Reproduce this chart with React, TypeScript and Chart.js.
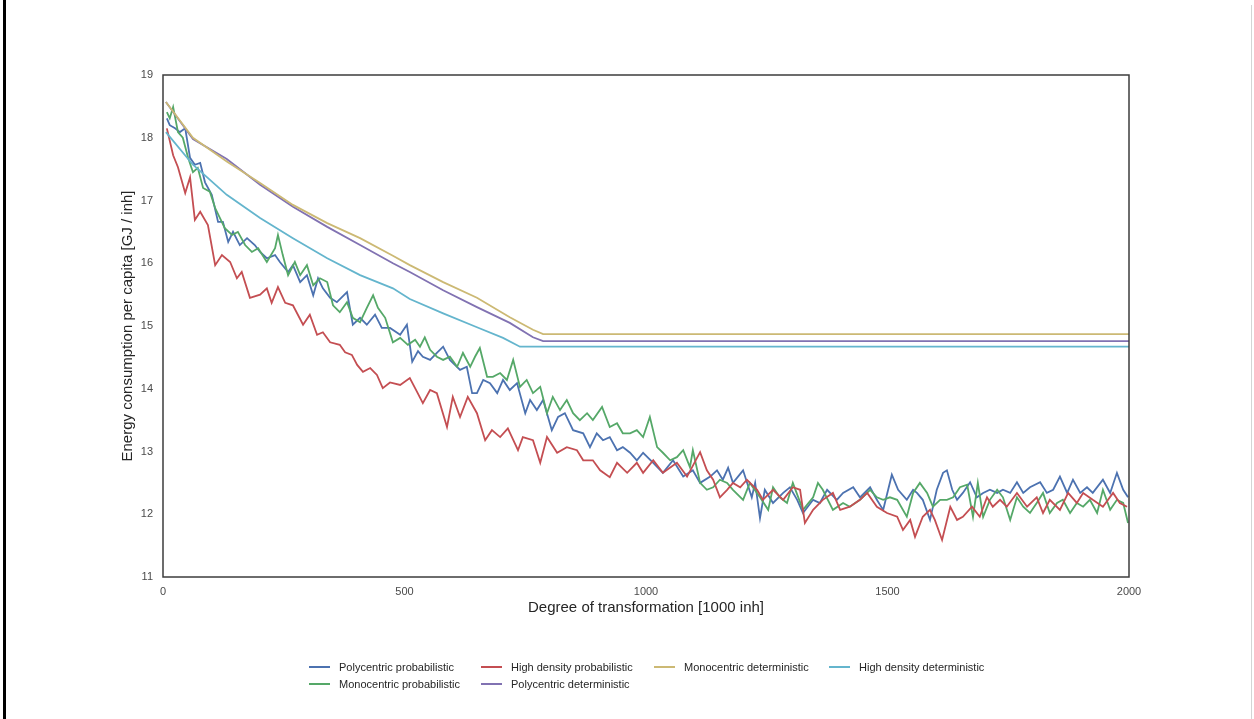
import React, { useEffect, useRef } from "react";
import { Chart, registerables } from "chart.js";

Chart.register(...registerables);

const FONT = "'Liberation Sans', Arial, Helvetica, sans-serif";

// ---------- data (x = degree of transformation [1000 inh], y = GJ / inh) ----------
const polyProbX = [8, 14, 25, 35, 46, 56, 66, 77, 87, 101, 114, 124, 135, 145, 159, 174, 190, 201, 215, 232, 242, 259, 269, 284, 298, 311, 321, 331, 346, 360, 381, 393, 408, 422, 439, 453, 470, 491, 505, 516, 528, 538, 553, 567, 580, 594, 615, 629, 640, 650, 663, 677, 692, 704, 718, 733, 750, 760, 774, 787, 805, 818, 832, 849, 870, 884, 898, 911, 925, 940, 952, 967, 981, 994, 1015, 1035, 1056, 1077, 1097, 1112, 1133, 1147, 1159, 1170, 1180, 1201, 1219, 1226, 1236, 1246, 1263, 1284, 1298, 1313, 1325, 1346, 1360, 1375, 1395, 1408, 1429, 1443, 1464, 1478, 1491, 1509, 1522, 1540, 1553, 1561, 1573, 1588, 1602, 1615, 1623, 1634, 1644, 1656, 1671, 1685, 1698, 1712, 1727, 1739, 1754, 1768, 1781, 1795, 1816, 1830, 1843, 1857, 1872, 1884, 1899, 1913, 1925, 1946, 1961, 1975, 1988, 1998];
const polyProbY = [18.31, 18.2, 18.15, 18.09, 18.15, 17.68, 17.57, 17.6, 17.29, 17.09, 16.66, 16.66, 16.34, 16.5, 16.29, 16.4, 16.29, 16.18, 16.08, 16.13, 16.02, 15.86, 15.97, 15.7, 15.81, 15.49, 15.76, 15.6, 15.45, 15.38, 15.54, 15.02, 15.13, 15.02, 15.18, 14.97, 14.97, 14.86, 15.02, 14.43, 14.6, 14.51, 14.46, 14.57, 14.67, 14.46, 14.3, 14.35, 13.93, 13.93, 14.14, 14.09, 13.93, 14.14, 13.98, 14.09, 13.61, 13.82, 13.66, 13.82, 13.34, 13.55, 13.61, 13.34, 13.29, 13.07, 13.29, 13.18, 13.23, 13.02, 13.07, 12.98, 12.86, 12.98, 12.82, 12.66, 12.86, 12.6, 12.7, 12.5, 12.6, 12.7, 12.55, 12.74, 12.5, 12.7, 12.27, 12.5, 11.94, 12.39, 12.18, 12.34, 12.43, 12.23, 12.02, 12.23, 12.18, 12.39, 12.23, 12.34, 12.43, 12.27, 12.43, 12.23, 12.07, 12.63, 12.39, 12.23, 12.39, 12.34, 12.23, 11.91, 12.39, 12.66, 12.7, 12.39, 12.23, 12.34, 12.51, 12.27, 12.34, 12.39, 12.34, 12.39, 12.34, 12.51, 12.34, 12.43, 12.51, 12.34, 12.39, 12.6, 12.34, 12.55, 12.34, 12.43, 12.34, 12.55, 12.34, 12.66, 12.39, 12.27];

const monoProbX = [8, 14, 21, 31, 41, 52, 62, 72, 83, 97, 108, 118, 128, 143, 155, 170, 184, 197, 215, 232, 238, 248, 259, 273, 284, 298, 311, 325, 340, 352, 366, 381, 393, 408, 422, 435, 445, 460, 476, 491, 507, 522, 532, 542, 553, 567, 580, 594, 609, 621, 636, 646, 656, 671, 683, 698, 712, 725, 739, 753, 766, 781, 795, 807, 822, 836, 849, 863, 878, 890, 909, 925, 940, 952, 967, 981, 994, 1008, 1023, 1035, 1050, 1064, 1077, 1091, 1097, 1112, 1126, 1139, 1153, 1168, 1180, 1201, 1215, 1236, 1253, 1263, 1277, 1292, 1304, 1325, 1346, 1356, 1366, 1387, 1408, 1422, 1443, 1464, 1478, 1491, 1505, 1520, 1540, 1553, 1567, 1582, 1594, 1609, 1623, 1636, 1650, 1665, 1677, 1687, 1698, 1712, 1727, 1739, 1754, 1768, 1781, 1795, 1809, 1822, 1836, 1851, 1863, 1878, 1892, 1905, 1919, 1934, 1946, 1961, 1975, 1988, 1998];
const monoProbY = [18.41, 18.31, 18.49, 18.09, 18.0, 17.68, 17.45, 17.52, 17.2, 17.14, 16.88, 16.72, 16.56, 16.45, 16.5, 16.29, 16.18, 16.24, 16.02, 16.24, 16.45, 16.13, 15.81, 16.02, 15.81, 15.97, 15.65, 15.76, 15.7, 15.33, 15.22, 15.38, 15.13, 15.06, 15.29, 15.49, 15.29, 15.13, 14.74, 14.81, 14.7, 14.78, 14.67, 14.82, 14.62, 14.51, 14.46, 14.51, 14.35, 14.57, 14.35, 14.51, 14.65, 14.19, 14.19, 14.25, 14.14, 14.46, 14.03, 14.14, 13.93, 14.03, 13.61, 13.87, 13.66, 13.82, 13.61, 13.5, 13.61, 13.5, 13.71, 13.39, 13.45, 13.29, 13.29, 13.34, 13.23, 13.55, 13.07, 12.98, 12.86, 12.91, 13.02, 12.75, 13.02, 12.5, 12.39, 12.43, 12.55, 12.5, 12.39, 12.23, 12.5, 12.27, 12.07, 12.43, 12.27, 12.18, 12.5, 12.07, 12.27, 12.5, 12.39, 12.07, 12.18, 12.12, 12.23, 12.39, 12.27, 12.23, 12.27, 12.23, 11.96, 12.34, 12.5, 12.34, 12.12, 12.23, 12.23, 12.27, 12.43, 12.47, 11.96, 12.5, 11.96, 12.23, 12.39, 12.27, 11.91, 12.27, 12.12, 12.02, 12.18, 12.34, 12.02, 12.18, 12.23, 12.02, 12.18, 12.12, 12.23, 12.02, 12.39, 12.07, 12.23, 12.18, 11.86];

const highProbX = [8, 21, 31, 46, 56, 66, 77, 93, 108, 122, 139, 153, 163, 180, 201, 215, 225, 238, 253, 269, 290, 304, 319, 331, 346, 366, 377, 391, 402, 414, 429, 443, 455, 470, 491, 511, 526, 538, 553, 567, 588, 600, 615, 631, 650, 667, 681, 698, 714, 735, 745, 766, 781, 795, 816, 836, 857, 870, 890, 905, 925, 940, 961, 981, 994, 1015, 1035, 1064, 1085, 1112, 1126, 1139, 1153, 1168, 1180, 1195, 1209, 1230, 1242, 1263, 1284, 1304, 1319, 1329, 1346, 1366, 1387, 1402, 1422, 1443, 1458, 1478, 1499, 1520, 1532, 1547, 1557, 1573, 1588, 1598, 1613, 1630, 1644, 1656, 1675, 1691, 1706, 1718, 1733, 1747, 1768, 1789, 1809, 1822, 1836, 1857, 1874, 1892, 1905, 1925, 1946, 1967, 1981, 1996];
const highProbY = [18.15, 17.72, 17.53, 17.12, 17.37, 16.69, 16.82, 16.61, 15.97, 16.13, 16.02, 15.76, 15.86, 15.45, 15.5, 15.6, 15.37, 15.62, 15.37, 15.33, 15.02, 15.18, 14.86, 14.9, 14.74, 14.7, 14.58, 14.54, 14.38, 14.27, 14.33, 14.22, 14.01, 14.1, 14.06, 14.17, 13.95, 13.77, 13.98, 13.93, 13.39, 13.87, 13.55, 13.87, 13.61, 13.18, 13.34, 13.23, 13.37, 13.02, 13.23, 13.18, 12.82, 13.23, 12.98, 13.07, 13.02, 12.86, 12.86, 12.7, 12.59, 12.82, 12.66, 12.82, 12.66, 12.86, 12.66, 12.82, 12.6, 12.99, 12.7, 12.55, 12.27, 12.39, 12.5, 12.43, 12.55, 12.39, 12.23, 12.39, 12.23, 12.43, 12.39, 11.86, 12.07, 12.23, 12.34, 12.07, 12.12, 12.23, 12.34, 12.12, 12.02, 11.96, 11.75, 11.91, 11.64, 11.96, 12.07, 11.91, 11.59, 12.12, 11.91, 11.96, 12.12, 11.96, 12.27, 12.12, 12.23, 12.12, 12.34, 12.12, 12.27, 12.02, 12.23, 12.07, 12.34, 12.18, 12.34, 12.23, 12.12, 12.34, 12.18, 12.12];

const polyDetX = [6, 62, 132, 201, 269, 340, 408, 476, 511, 580, 650, 718, 766, 787, 2000];
const polyDetY = [18.57, 17.98, 17.66, 17.25, 16.9, 16.58, 16.29, 16.0, 15.86, 15.57, 15.3, 15.05, 14.82, 14.76, 14.76];

const monoDetX = [6, 62, 132, 201, 269, 340, 408, 476, 511, 580, 650, 718, 766, 787, 2000];
const monoDetY = [18.57, 18.0, 17.62, 17.28, 16.93, 16.64, 16.4, 16.12, 15.97, 15.7, 15.45, 15.14, 14.94, 14.87, 14.87];

const highDetX = [6, 62, 132, 201, 269, 340, 408, 476, 511, 580, 650, 704, 739, 2000];
const highDetY = [18.09, 17.57, 17.09, 16.72, 16.4, 16.08, 15.81, 15.6, 15.43, 15.2, 14.98, 14.81, 14.67, 14.67];

const xTicks = [0, 500, 1000, 1500, 2000];
const yTicks = [11, 12, 13, 14, 15, 16, 17, 18, 19];

const seriesNames = [
  "Polycentric probabilistic",
  "Monocentric probabilistic",
  "High density probabilistic",
  "Polycentric deterministic",
  "Monocentric deterministic",
  "High density deterministic",
];
const seriesColors = ["#4C72B0", "#55A868", "#C44E52", "#8172B2", "#CCB974", "#64B5CD"];
const seriesX = [polyProbX, monoProbX, highProbX, polyDetX, monoDetX, highDetX];
const seriesY = [polyProbY, monoProbY, highProbY, polyDetY, monoDetY, highDetY];

// legend grid (matplotlib ncol=4, column-major: 2,2,1,1)
const legendCols = [309, 481, 654, 829];
const legendRows = [667, 684];
const legendCol = [0, 0, 1, 1, 2, 3];
const legendRow = [0, 1, 0, 1, 0, 0];

const framePlugin = {
  id: "frame",
  afterDatasetsDraw(chart: any) {
    const { ctx, chartArea } = chart;
    ctx.save();
    ctx.strokeStyle = "#3c3c3c";
    ctx.lineWidth = 1.5;
    ctx.strokeRect(chartArea.left, chartArea.top, chartArea.right - chartArea.left, chartArea.bottom - chartArea.top);
    ctx.restore();
  },
};

export default function App() {
  const ref = useRef<HTMLCanvasElement>(null);

  useEffect(() => {
    const datasets = seriesNames.map((name, i) => ({
      label: name,
      data: seriesX[i].map((x, j) => ({ x, y: seriesY[i][j] })),
      borderColor: seriesColors[i],
      backgroundColor: seriesColors[i],
      borderWidth: 1.8,
      pointRadius: 0,
      tension: 0,
      fill: false,
      order: 6 - i,
    }));

    const chart = new Chart(ref.current!, {
      type: "line",
      data: { datasets },
      options: {
        responsive: false,
        animation: false,
        layout: { padding: { left: 119, right: 125, top: 75, bottom: 102 } },
        plugins: { legend: { display: false }, tooltip: { enabled: false } },
        scales: {
          x: {
            type: "linear",
            min: 0,
            max: 2000,
            afterFit: (s: any) => {
              s.height = 40;
            },
            afterBuildTicks: (s: any) => {
              s.ticks = xTicks.map((v) => ({ value: v }));
            },
            grid: { display: false, drawTicks: false },
            border: { display: false },
            ticks: {
              padding: 8,
              color: "#4a4a4a",
              font: { family: FONT, size: 11 },
              maxRotation: 0,
              callback: (v: any) => String(v),
            },
            title: {
              display: true,
              text: "Degree of transformation [1000 inh]",
              color: "#262626",
              padding: 0,
              font: { family: FONT, size: 15 },
            },
          },
          y: {
            type: "linear",
            min: 11,
            max: 19,
            afterFit: (s: any) => {
              s.width = 44;
            },
            afterBuildTicks: (s: any) => {
              s.ticks = yTicks.map((v) => ({ value: v }));
            },
            grid: { display: false, drawTicks: false },
            border: { display: false },
            ticks: {
              padding: 10,
              color: "#4a4a4a",
              font: { family: FONT, size: 11 },
              callback: (v: any) => String(v),
            },
            title: {
              display: true,
              text: "Energy consumption per capita [GJ / inh]",
              color: "#262626",
              padding: 0,
              font: { family: FONT, size: 15 },
            },
          },
        },
      },
      plugins: [framePlugin],
    });
    return () => chart.destroy();
  }, []);

  return (
    <div style={{ position: "fixed", left: 0, top: 0, width: 1254, height: 719, background: "#fff", overflow: "hidden" }}>
      <canvas ref={ref} width={1254} height={719} style={{ position: "absolute", left: 0, top: 0 }} />
      <div style={{ position: "absolute", left: 3, top: 0, width: 3, height: 719, background: "#000" }} />
      <div style={{ position: "absolute", left: 1251, top: 5, width: 1, height: 714, background: "#d4d4d4" }} />
      {seriesNames.map((name, i) => (
        <div
          key={name}
          style={{
            position: "absolute",
            left: legendCols[legendCol[i]],
            top: legendRows[legendRow[i]] - 8,
            height: 16,
            display: "flex",
            alignItems: "center",
            whiteSpace: "nowrap",
            fontFamily: FONT,
            fontSize: 11,
            color: "#262626",
          }}
        >
          <span style={{ display: "inline-block", width: 21, height: 2, background: seriesColors[i], marginRight: 9 }} />
          <span>{name}</span>
        </div>
      ))}
    </div>
  );
}
